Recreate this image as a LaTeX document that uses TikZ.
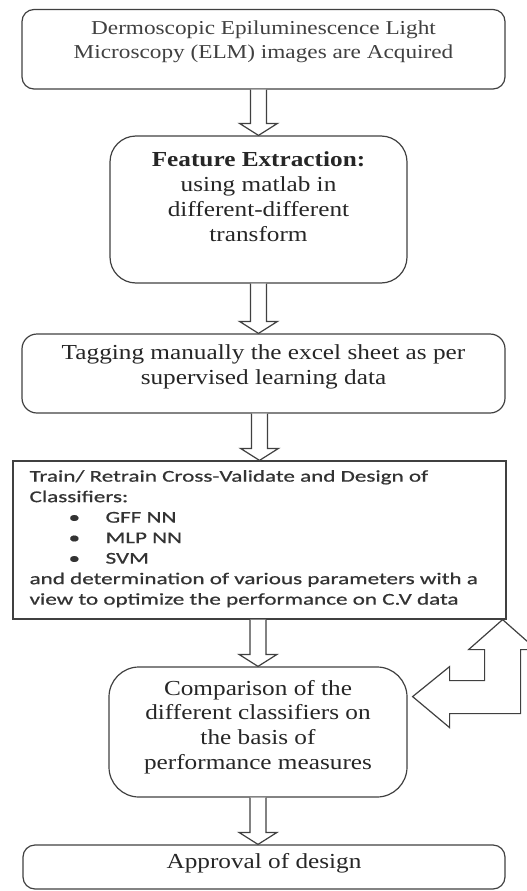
\documentclass[tikz,border=0pt]{standalone}
\usepackage{fontspec}
\setmainfont{Liberation Serif}[FakeStretch=1.18]
\newfontfamily\calfont{Carlito}[FakeStretch=1.4, FakeBold=0.7]
\usetikzlibrary{calc,positioning}
\tikzset{
	flowbox/.style={draw=black!75, line width=1.2pt, inner sep=0pt},
	boxtext/.style={align=center, inner sep=0pt, anchor=north, text=black!85, font=\fontsize{21.4}{24.7}\selectfont},
	listtext/.style={align=left, inner sep=0pt, anchor=north west, text=black!80, font=\calfont\fontsize{16.5}{20.5}\selectfont},
	blockarrow/.style={draw=black!75, line width=1.2pt, fill=white, line join=miter}
}
\def\hollowarrow(#1)(#2){\draw[blockarrow] ($(#1)+(-8,0)$) -- ($(#2)+(-8,-12)$) -- ($(#2)+(-19,-12)$) -- (#2) -- ($(#2)+(19,-12)$) -- ($(#2)+(8,-12)$) -- ($(#1)+(8,0)$);}

\begin{document}
\begin{tikzpicture}[x=1pt, y=-1pt]
	%%%%% FRAME %%%%%
	\useasboundingbox (0, 0) rectangle (527, 891);
	
	%%%%% BOXES %%%%%
	\node[flowbox, rounded corners=12pt, minimum width=483pt, minimum height=79.5pt] (acq) at (263.5, 49.25) {};
	\node[flowbox, rounded corners=26pt, minimum width=297pt, minimum height=147pt] (feat) at (258.5, 209.5) {};
	\node[flowbox, rounded corners=15pt, minimum width=483pt, minimum height=79pt] (tag) at (263.5, 373.5) {};
	\node[flowbox, minimum width=493pt, minimum height=158pt] (train) at (259.5, 540) {};
	\node[flowbox, rounded corners=30pt, minimum width=298pt, minimum height=130pt] (cmp) at (258, 732) {};
	\node[flowbox, rounded corners=12pt, minimum width=482pt, minimum height=44pt] (approve) at (264, 867) {};
	
	%%%%% TEXTS %%%%%
	\node[boxtext, text=black!75, font=\fontsize{19.7}{24}\selectfont] (acqtxt) at ([yshift=-12pt]acq.north)
		{Dermoscopic Epiluminescence Light\\Microscopy (ELM) images are Acquired};
	\node[boxtext] (feattxt) at ([yshift=-16.5pt]feat.north)
		{\textbf{Feature Extraction:}\\using matlab in\\different-different\\transform};
	\node[boxtext] (tagtxt) at ([yshift=-11.4pt]tag.north)
		{Tagging manually the excel sheet as per\\supervised learning data};
	\node[listtext] (traintxt) at ([xshift=17pt, yshift=-9.6pt]train.north west)
		{Train/ Retrain Cross-Validate and Design of\\
		Classifiers:\\
		\hspace*{39pt}\makebox[37pt][l]{\textbullet}GFF NN\\
		\hspace*{39pt}\makebox[37pt][l]{\textbullet}MLP NN\\
		\hspace*{39pt}\makebox[37pt][l]{\textbullet}SVM\\
		and determination of various parameters with a\\
		view to optimize the performance on C.V data};
	\node[boxtext] (cmptxt) at ([yshift=-13.4pt]cmp.north)
		{Comparison of the\\different classifiers on\\the basis of\\performance measures};
	\node[boxtext] (approvetxt) at ([yshift=-8.4pt]approve.north) {Approval of design};
	
	%%%%% ARROWS %%%%%
	\hollowarrow(acq.south -| feat.north)(feat.north)
	\hollowarrow(feat.south)(feat.south |- tag.north)
	\hollowarrow(tag.south -| train.north)(train.north)
	\hollowarrow(train.south -| cmp.north)(cmp.north)
	\hollowarrow(cmp.south)(cmp.south |- approve.north)
	
	% feedback from comparison back to training
	\coordinate (fbup) at ([xshift=-4pt]train.south east);
	\draw[blockarrow] (fbup) -- ++(34, 30) -- ++(-16, 0) -- ++(0, 64) -- ++(-71, 0) -- ++(0, 14)
		-- ++(-37, -31) -- ++(37, -30) -- ++(0, 14) -- ++(35, 0) -- ++(0, -31) -- ++(-16, 0) -- cycle;
\end{tikzpicture}
\end{document}
